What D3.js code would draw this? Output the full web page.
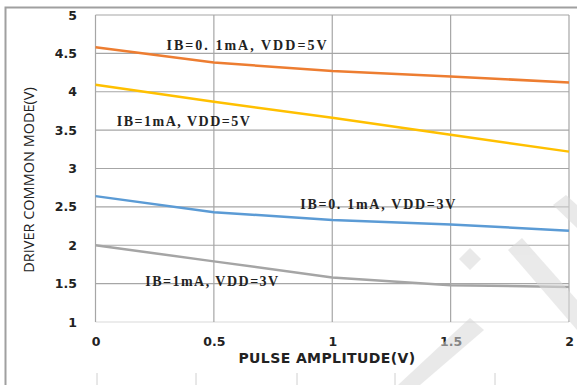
<!DOCTYPE html>
<html>
<head>
<meta charset="utf-8">
<script src="https://cdn.jsdelivr.net/npm/d3@7"></script>
<style>
  body { margin: 0; background: #fff; }
  svg { display: block; }
</style>
</head>
<body>
<svg id="chart" width="577" height="385"></svg>
<script>
var width = 577,
    height = 385;

// data
var xValues = [0, 0.5, 1, 1.5, 2];
var ib01Vdd5 = [4.58, 4.38, 4.27, 4.20, 4.12];
var ib1Vdd5 = [4.09, 3.87, 3.66, 3.44, 3.22];
var ib01Vdd3 = [2.64, 2.43, 2.33, 2.27, 2.19];
var ib1Vdd3 = [2.00, 1.79, 1.58, 1.48, 1.455];
var seriesNames = ["IB=0. 1mA, VDD=5V", "IB=1mA, VDD=5V", "IB=0. 1mA, VDD=3V", "IB=1mA, VDD=3V"];
var yTicks = [1, 1.5, 2, 2.5, 3, 3.5, 4, 4.5, 5];
var xTicks = [0, 0.5, 1, 1.5, 2];

var series = [
  { name: seriesNames[0], values: ib01Vdd5, color: "#ed7d31", lx: 0.3, ly: 4.55, lw: 160 },
  { name: seriesNames[1], values: ib1Vdd5, color: "#ffc000", lx: 0.09, ly: 3.55, lw: 133 },
  { name: seriesNames[2], values: ib01Vdd3, color: "#5b9bd5", lx: 0.865, ly: 2.47, lw: 155 },
  { name: seriesNames[3], values: ib1Vdd3, color: "#a5a5a5", lx: 0.21, ly: 1.47, lw: 133 }
];

var svg = d3.select("#chart");

// outer frame
svg.append("path")
   .attr("d", "M5.5,385V7.5H577")
   .attr("fill", "none")
   .attr("stroke", "#a0a0a0")
   .attr("stroke-width", 2);

var x = d3.scaleLinear().domain([0, 2]).range([95.5, 569]);
var y = d3.scaleLinear().domain([1, 5]).range([322, 15]);

// grid
svg.append("g")
   .selectAll("line")
   .data(yTicks)
   .join("line")
   .attr("x1", x(0)).attr("x2", x(2))
   .attr("y1", d => y(d)).attr("y2", d => y(d))
   .attr("stroke", d => d == 1 ? "#d9d9d9" : "#a6a6a6")
   .attr("stroke-width", 1.2);

svg.append("g")
   .selectAll("line")
   .data(xTicks)
   .join("line")
   .attr("x1", d => x(d)).attr("x2", d => x(d))
   .attr("y1", y(1)).attr("y2", y(5))
   .attr("stroke", "#a6a6a6")
   .attr("stroke-width", 1.2);

// y axis labels
var yAxis = d3.axisLeft(y).tickValues(yTicks).tickSize(0).tickPadding(0).tickFormat(d3.format("~g"));
svg.append("g")
   .attr("transform", "translate(77,0)")
   .call(yAxis)
   .call(g => g.select(".domain").remove())
   .selectAll("text")
   .attr("font-family", "DejaVu Sans, Verdana, sans-serif")
   .attr("font-weight", "bold")
   .attr("font-size", 12.5)
   .attr("fill", "#222");

// x axis labels
var xAxis = d3.axisBottom(x).tickValues(xTicks).tickSize(0).tickPadding(0).tickFormat(d3.format("~g"));
svg.append("g")
   .attr("transform", "translate(0,337)")
   .call(xAxis)
   .call(g => g.select(".domain").remove())
   .selectAll("text")
   .attr("font-family", "DejaVu Sans, Verdana, sans-serif")
   .attr("font-weight", "bold")
   .attr("font-size", 12.5)
   .attr("fill", "#222");

// axis titles
svg.append("text")
   .attr("x", 327)
   .attr("y", 363)
   .attr("text-anchor", "middle")
   .attr("font-family", "DejaVu Sans, Verdana, sans-serif")
   .attr("font-weight", "bold")
   .attr("font-size", 14)
   .attr("letter-spacing", 0.4)
   .attr("fill", "#222")
   .text("PULSE AMPLITUDE(V)");

svg.append("text")
   .attr("transform", "translate(33.5,180) rotate(-90)")
   .attr("text-anchor", "middle")
   .attr("font-family", "Open Sans, Liberation Sans, sans-serif")
   .attr("font-size", 14.5)
   .attr("fill", "#222")
   .text("DRIVER COMMON MODE(V)");

// lines
var line = d3.line()
   .x((d, i) => x(xValues[i]))
   .y(d => y(d));

svg.append("g")
   .selectAll("path")
   .data(series)
   .join("path")
   .attr("d", d => line(d.values))
   .attr("fill", "none")
   .attr("stroke", d => d.color)
   .attr("stroke-width", 2.5);

// series labels
svg.append("g")
   .selectAll("text")
   .data(series)
   .join("text")
   .attr("x", d => x(d.lx))
   .attr("y", d => y(d.ly))
   .attr("font-family", "Liberation Serif, DejaVu Serif, serif")
   .attr("font-weight", "bold")
   .attr("font-size", 14)
   .attr("textLength", d => d.lw)
   .attr("lengthAdjust", "spacing")
   .attr("fill", "#222")
   .text(d => d.name);

// stub of the table below the chart
svg.append("g")
   .selectAll("line")
   .data([97, 196, 297, 395, 495])
   .join("line")
   .attr("x1", d => d).attr("x2", d => d)
   .attr("y1", 373).attr("y2", 385)
   .attr("stroke", "#d0d0d0");

// faint watermark strokes
var wm = svg.append("g").attr("fill", "#d8d8d8").attr("opacity", 0.55);
wm.append("path").attr("d", "M470,248L481,259L470,270L459,259Z");
wm.append("path").attr("d", "M508,250L522,238L577,300L577,330Z");
wm.append("path").attr("d", "M398,385L470,318L484,330L420,385Z");
wm.append("path").attr("d", "M553,205L566,195L577,205L577,228Z");
</script>
</body>
</html>
